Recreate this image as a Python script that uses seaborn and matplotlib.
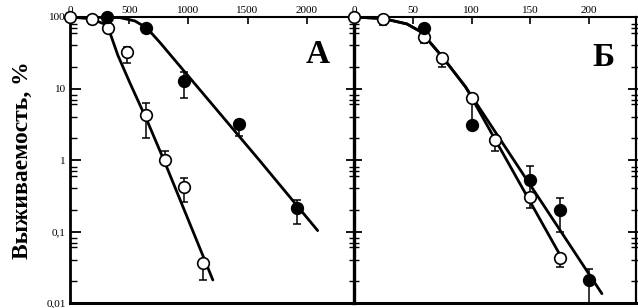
import numpy as np
import pandas as pd
import matplotlib
matplotlib.use("Agg")
import matplotlib.pyplot as plt
import seaborn as sns
from matplotlib.ticker import FixedLocator, FixedFormatter, NullFormatter

# ---------------- data ----------------
# Panel A
a_open_x = [0, 186, 321, 481, 641, 802, 962, 1122]
a_open_y = [100, 94, 70, 32, 4.2, 1.0, 0.42, 0.036]
a_open_lo = [100, 80, 70, 22.5, 2.0, 1.0, 0.26, 0.021]
a_open_hi = [100, 94, 70, 38, 6.2, 1.34, 0.56, 0.036]

a_fill_x = [312, 641, 962, 1430, 1916]
a_fill_y = [100, 70, 12.6, 3.2, 0.21]
a_fill_lo = [100, 62, 7.3, 2.2, 0.126]
a_fill_hi = [100, 70, 16.8, 3.6, 0.28]

a_open_fit_x = [0, 186, 287, 338, 405, 506, 650, 793, 1207]
a_open_fit_y = [100, 94, 80, 60, 29, 12, 3.6, 1.0, 0.021]
a_fill_fit_x = [0, 422, 549, 650, 760, 1603, 2093]
a_fill_fit_y = [100, 98, 88, 70, 44, 0.98, 0.103]

# Panel B
b_open_x = [0, 24.7, 59.6, 75, 100.4, 120, 150, 175]
b_open_y = [100, 94, 52, 26.5, 7.3, 1.9, 0.30, 0.042]
b_open_lo = [100, 77, 43, 20, 7.3, 1.35, 0.21, 0.032]
b_open_hi = [100, 94, 52, 26.5, 7.3, 1.9, 0.30, 0.042]

b_fill_x = [59.6, 100, 150, 175, 200]
b_fill_y = [70, 3.1, 0.52, 0.20, 0.021]
b_fill_lo = [70, 3.1, 0.35, 0.10, 0.01]
b_fill_hi = [70, 6.5, 0.82, 0.29, 0.030]

b_open_fit_x = [0, 25, 45, 57, 75, 95, 177]
b_open_fit_y = [100, 95, 80, 62, 28, 10.5, 0.042]
b_fill_fit_x = [0, 25, 45, 57, 75, 95, 211]
b_fill_fit_y = [100, 95, 80, 62, 28, 10.5, 0.0135]

a_xticks = [0, 500, 1000, 1500, 2000]
b_xticks = [0, 50, 100, 150, 200]
y_ticks = [100, 10, 1, 0.1, 0.01]
y_ticklabels = ["100", "10", "1", "0,1", "0,01"]
y_label = "Выживаемость, %"
panel_labels = ["А", "Б"]

# ---------------- style ----------------
sns.set_style("ticks")
plt.rcParams['font.family'] = ['Liberation Serif', 'DejaVu Serif']
plt.rcParams['text.color'] = 'black'
plt.rcParams['xtick.color'] = 'black'
plt.rcParams['ytick.color'] = 'black'
plt.rcParams['axes.edgecolor'] = 'black'

fig = plt.figure(figsize=(6.38, 3.08), dpi=100)
axA = fig.add_axes([70/638, 5/308, 284/638, 286/308])
axB = fig.add_axes([354/638, 5/308, 282/638, 286/308])

minor_subs = [2, 4, 6, 7, 8]
minor_pos = [m * 10.0**e for e in range(-2, 2) for m in minor_subs]


def draw_panel(ax, fits, pts, xlim, xticks):
    for fx, fy in fits:
        sns.lineplot(x=fx, y=fy, ax=ax, color='black', lw=2.0, sort=False,
                     estimator=None, zorder=2)
    for px, py, lo, hi, filled in pts:
        py_a = np.array(py)
        yerr = [py_a - np.array(lo), np.array(hi) - py_a]
        ax.errorbar(px, py, yerr=yerr, fmt='none', ecolor='black',
                    elinewidth=1.1, capsize=2.6, capthick=1.1, zorder=3,
                    clip_on=False)
        df = pd.DataFrame({'x': px, 'y': py})
        sns.scatterplot(data=df, x='x', y='y', ax=ax, marker='o', s=70,
                        facecolor='black' if filled else 'white',
                        edgecolor='black', linewidth=1.2, zorder=4,
                        clip_on=False)
    ax.set_yscale('log')
    ax.set_ylim(0.01, 100)
    ax.set_xlim(*xlim)
    ax.xaxis.tick_top()
    ax.set_xticks(xticks)
    ax.set_xticklabels([str(t) for t in xticks])
    ax.tick_params(axis='x', which='both', direction='in', length=5,
                   width=1.2, top=True, bottom=False, labelsize=8, pad=1.5,
                   colors='black')
    ax.yaxis.set_major_locator(FixedLocator(y_ticks))
    ax.yaxis.set_minor_locator(FixedLocator(minor_pos))
    ax.yaxis.set_minor_formatter(NullFormatter())
    ax.set_xlabel('')
    ax.set_ylabel('')


draw_panel(axA,
           [(a_open_fit_x, a_open_fit_y), (a_fill_fit_x, a_fill_fit_y)],
           [(a_open_x, a_open_y, a_open_lo, a_open_hi, False),
            (a_fill_x, a_fill_y, a_fill_lo, a_fill_hi, True)],
           (0, 2400), a_xticks)
draw_panel(axB,
           [(b_open_fit_x, b_open_fit_y), (b_fill_fit_x, b_fill_fit_y)],
           [(b_open_x, b_open_y, b_open_lo, b_open_hi, False),
            (b_fill_x, b_fill_y, b_fill_lo, b_fill_hi, True)],
           (0, 240), b_xticks)

# Panel A y axis
axA.yaxis.set_major_formatter(FixedFormatter(y_ticklabels))
axA.tick_params(axis='y', which='major', direction='in', length=8, width=1.3,
                left=True, right=False, labelsize=8, pad=3, colors='black')
axA.tick_params(axis='y', which='minor', direction='in', length=5, width=1.0,
                left=True, right=False)
axA.spines['right'].set_visible(False)
axA.spines['left'].set_linewidth(2.0)
axA.spines['top'].set_linewidth(1.5)
axA.spines['bottom'].set_linewidth(2.2)

# Panel B y axis
axB.tick_params(axis='y', which='major', direction='inout', length=11,
                width=1.3, left=True, right=True, labelleft=False,
                labelright=False, colors='black')
axB.tick_params(axis='y', which='minor', direction='inout', length=7,
                width=1.0, left=True, right=True)
axB.spines['left'].set_linewidth(2.4)
axB.spines['right'].set_linewidth(1.6)
axB.spines['top'].set_linewidth(1.5)
axB.spines['bottom'].set_linewidth(2.2)

for ax in (axA, axB):
    for sp in ax.spines.values():
        sp.set_color('black')

axA.text(0.873, 0.87, panel_labels[0], transform=axA.transAxes,
         fontsize=24, fontweight='bold', ha='center', va='center',
         color='black')
axB.text(0.883, 0.86, panel_labels[1], transform=axB.transAxes,
         fontsize=24, fontweight='bold', ha='center', va='center',
         color='black')

fig.text(22/638, 1 - 160/308, y_label, rotation=90, fontsize=17,
         fontweight='bold', ha='center', va='center', color='black')

fig.savefig('out.png', dpi=100)
